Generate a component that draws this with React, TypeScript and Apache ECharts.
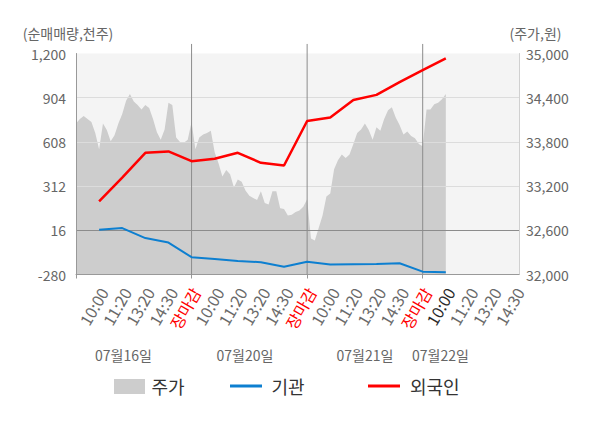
import React, { useEffect, useRef } from 'react';
import * as echarts from 'echarts';

// ---- data ----
const dayLabels = ['07월16일', '07월20일', '07월21일', '07월22일'];
const slotLabels = ['장마감', '10:00', '11:20', '13:20', '14:30'];

// stock price (주가, 원), sampled along the intraday axis
const price16 = [34050, 34110, 34150, 34110, 34070, 33920, 33700, 34050, 33960, 33810, 33890, 34050, 34180, 34360, 34450, 34350, 34300, 34240, 34300, 34260, 34110, 33930, 33830, 33970, 34330, 34300, 33860, 33800, 33790, 33830, 34070];
const price20 = [33700, 33860, 33900, 33920, 33950, 33660, 33510, 33330, 33420, 33360, 33180, 33290, 33260, 33140, 33070, 33040, 33010, 33130, 32970, 32950, 33130, 33130, 32900, 32890, 32800, 32810, 32850, 32870, 32920, 33020];
const price21 = [32490, 32460, 32630, 32800, 33060, 33100, 33430, 33550, 33630, 33580, 33630, 33770, 33920, 33970, 34050, 33960, 33830, 34000, 33950, 34110, 34230, 34270, 34130, 34030, 33900, 33940, 33880, 33850, 33770, 33740];
const price22 = [34240, 34240, 34310, 34330, 34380, 34450];

// net buying (천주) at each labelled time slot, from 07/16 10:00 to 07/22 10:00
const foreignNet = [210, 369, 535, 544, 479, 495, 535, 468, 450, 748, 771, 889, 923, 1008, 1089, 1168];
const instNet = [19, 31, -36, -66, -164, -176, -189, -198, -228, -194, -213, -211, -209, -205, -261, -265];

const leftMin = -280;
const leftMax = 1200;
const leftInterval = 296;
const rightMin = 32000;
const rightMax = 35000;
const rightInterval = 600;

// ---- derived ----
const STEP = 6; // categories per labelled slot
const SLOTS_PER_DAY = 5;
const LAST_SLOT = 19;
const N = LAST_SLOT * STEP + 2;
const price = [...price16, ...price20, ...price21, ...price22];
const categories = Array.from({ length: N }, (_, i) => String(i));
const tickText = categories.map((_, i) =>
  i % STEP === 0 && i > 0 ? slotLabels[(i / STEP) % SLOTS_PER_DAY] : ''
);
const currentIdx = price.length - 1;
const tickColor = (i: number) =>
  tickText[i] === '장마감' ? '#ff0000' : i === currentIdx ? '#2a2a2a' : '#6a6a6a';
const dayBounds = [1, 2, 3].map((d) => [d * STEP * SLOTS_PER_DAY, leftMin]);

const fmt = (v: number) => {
  const s = String(Math.abs(Math.round(v))).replace(/\B(?=(\d{3})+(?!\d))/g, ',');
  return (v < 0 ? '-' : '') + s;
};

const FONT = '"Noto Sans CJK KR", "Noto Sans", sans-serif';
const BLUE = '#0d7fd0';
const RED = '#ff0000';

export default function App() {
  const ref = useRef<HTMLDivElement>(null);
  useEffect(() => {
    if (!ref.current) return;
    const chart = echarts.init(ref.current, undefined, { renderer: 'svg' });
    chart.setOption({
      animation: false,
      textStyle: { fontFamily: FONT },
      grid: {
        left: 76,
        top: 53.5,
        width: 443,
        height: 221,
        show: true,
        backgroundColor: '#f4f4f4',
        borderWidth: 0,
      },
      xAxis: {
        type: 'category',
        data: categories,
        boundaryGap: false,
        z: 1.5,
        axisLine: { onZero: false, lineStyle: { color: '#999999', width: 1 } },
        axisTick: {
          show: true,
          interval: (i: number) => i % (STEP * SLOTS_PER_DAY) === 0,
          length: 4,
          lineStyle: { color: '#999999' },
        },
        axisLabel: {
          interval: (i: number) => tickText[i] !== '',
          formatter: (v: string) => tickText[Number(v)],
          color: (v: string) => tickColor(Number(v)),
          rotate: 60,
          margin: 12,
          align: 'right',
          verticalAlign: 'top',
          lineHeight: 10,
          fontSize: 16,
          fontFamily: FONT,
        },
        splitLine: { show: false },
      },
      yAxis: [
        {
          type: 'value',
          position: 'left',
          min: leftMin,
          max: leftMax,
          interval: leftInterval,
          z: 1.5,
          axisLine: { show: true, lineStyle: { color: '#999999' } },
          axisTick: { show: false },
          axisLabel: { formatter: fmt, color: '#666666', fontSize: 14, margin: 10, fontFamily: FONT },
          splitLine: {
            show: true,
            lineStyle: {
              color: ['rgba(0,0,0,0)', '#8c8c8c', '#dcdcdc', '#dcdcdc', '#dcdcdc', 'rgba(0,0,0,0)'],
              width: 1,
            },
          },
        },
        {
          type: 'value',
          position: 'right',
          min: rightMin,
          max: rightMax,
          interval: rightInterval,
          z: 1.5,
          axisLine: { show: true, lineStyle: { color: '#d0d0d0' } },
          axisTick: { show: false },
          axisLabel: { formatter: fmt, color: '#666666', fontSize: 14, margin: 7, fontFamily: FONT },
          splitLine: { show: false },
        },
      ],
      series: [
        {
          name: '주가',
          type: 'line',
          yAxisIndex: 1,
          data: price,
          symbol: 'none',
          lineStyle: { width: 0 },
          areaStyle: { color: '#cdcdcd', opacity: 1 },
          z: 1,
          silent: true,
        },
        {
          type: 'custom',
          yAxisIndex: 0,
          silent: true,
          z: 1.6,
          clip: false,
          data: dayBounds,
          encode: { x: 0, y: 1 },
          renderItem: (params: any, api: any) => {
            const x = api.value(0);
            const p0 = api.coord([x, leftMin]);
            const p1 = api.coord([x, leftMax + 64]);
            return {
              type: 'line',
              shape: { x1: p0[0], y1: p0[1], x2: p1[0], y2: p1[1] },
              style: { stroke: '#8c8c8c', lineWidth: 1 },
            };
          },
        },
        {
          name: '기관',
          type: 'line',
          yAxisIndex: 0,
          data: instNet.map((v, k) => [(k + 1) * STEP, v]),
          symbol: 'none',
          lineStyle: { color: BLUE, width: 2 },
          z: 3,
        },
        {
          name: '외국인',
          type: 'line',
          yAxisIndex: 0,
          data: foreignNet.map((v, k) => [(k + 1) * STEP, v]),
          symbol: 'none',
          lineStyle: { color: RED, width: 2.5 },
          z: 4,
        },
      ],
      graphic: [
        {
          type: 'text',
          x: 68,
          y: 33,
          style: { text: '(순매매량,천주)', fill: '#666666', font: `14px ${FONT}`, align: 'center', verticalAlign: 'middle' },
        },
        {
          type: 'text',
          x: 535.5,
          y: 33,
          style: { text: '(주가,원)', fill: '#666666', font: `14px ${FONT}`, align: 'center', verticalAlign: 'middle' },
        },
        ...dayLabels.map((t, k) => ({
          type: 'text',
          x: [123.5, 245, 365, 440.5][k],
          y: 355,
          style: { text: t, fill: '#666666', font: `14px ${FONT}`, align: 'center', verticalAlign: 'middle' },
        })),
        { type: 'rect', shape: { x: 114, y: 379, width: 31, height: 15 }, style: { fill: '#cdcdcd' } },
        {
          type: 'text',
          x: 151.5,
          y: 386,
          style: { text: '주가', fill: '#333333', font: `18px ${FONT}`, align: 'left', verticalAlign: 'middle' },
        },
        { type: 'line', shape: { x1: 230, y1: 386, x2: 262, y2: 386 }, style: { stroke: BLUE, lineWidth: 3 } },
        {
          type: 'text',
          x: 271.5,
          y: 386,
          style: { text: '기관', fill: '#333333', font: `18px ${FONT}`, align: 'left', verticalAlign: 'middle' },
        },
        { type: 'line', shape: { x1: 368, y1: 386, x2: 400, y2: 386 }, style: { stroke: RED, lineWidth: 3 } },
        {
          type: 'text',
          x: 410,
          y: 386,
          style: { text: '외국인', fill: '#333333', font: `18px ${FONT}`, align: 'left', verticalAlign: 'middle' },
        },
      ],
    });
    return () => chart.dispose();
  }, []);
  return (
    <div
      ref={ref}
      style={{ position: 'fixed', left: 0, top: 0, width: 600, height: 428, background: '#ffffff' }}
    />
  );
}
